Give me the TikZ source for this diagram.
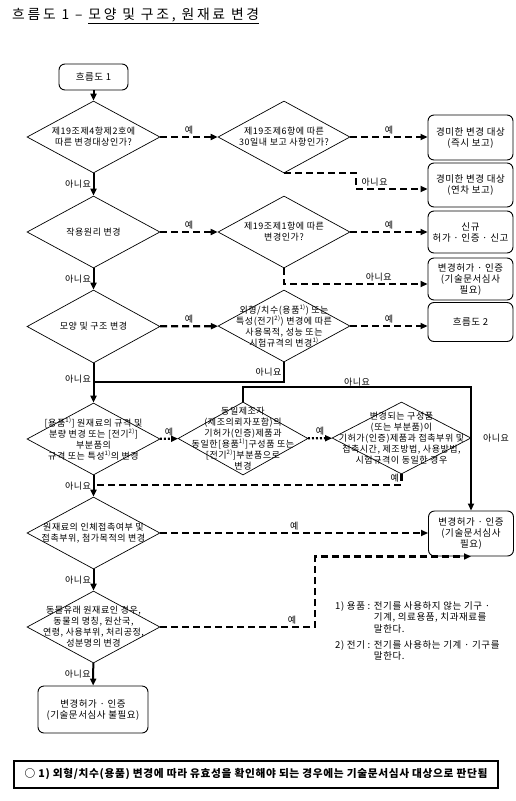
\documentclass[tikz,border=0pt]{standalone}
\usepackage{fontspec}
\setmainfont[LetterSpace=6]{Noto Sans CJK KR}
\newfontfamily\krtitle[LetterSpace=20]{Noto Sans CJK KR}
\usetikzlibrary{shapes.geometric, arrows.meta}

\begin{document}
\begin{tikzpicture}[
        x=1pt, y=-1pt,
        decision/.style={diamond, draw, line width=0.7pt, minimum width=133pt, minimum height=72pt, inner sep=0pt},
        dtext/.style={align=center, font=\fontsize{9}{11}\selectfont, inner sep=0pt},
        box/.style={draw, rounded corners=6pt, line width=0.9pt, align=center, minimum width=85pt, inner sep=2pt, font=\fontsize{9.5}{11}\selectfont},
        tag/.style={font=\fontsize{9}{10}\selectfont, inner sep=1.5pt},
        flow/.style={-{Triangle[length=7pt,width=6pt]}, line width=2pt},
        joinline/.style={line width=2pt},
        dashline/.style={line width=2.2pt, dash pattern=on 7pt off 4pt},
        dashflow/.style={dashline, -{Triangle[length=7pt,width=6pt]}},
        dotflow/.style={flow, line width=2.2pt, dash pattern=on 2pt off 2pt}
    ]
    \useasboundingbox (0,0) rectangle (516,801);

    % Title
    \node[anchor=west, inner sep=0pt, font=\krtitle\fontsize{13.8}{15}\selectfont] (title) at (12,16) {흐름도 1 – \underline{모양 및 구조, 원재료 변경}};

    % Nodes
    \node[box, minimum width=69pt, minimum height=26pt] (start) at (93.5,77) {흐름도 1};

    \node[decision, label={[dtext]center:{제19조제4항제2호에\\따른 변경대상인가?}}] (q1) at (93.5,137) {};
    \node[decision, minimum width=132pt, label={[dtext]center:{제19조제6항에 따른\\30일내 보고 사항인가?}}] (r1) at (284,137) {};
    \node[decision, label={[dtext]center:{작용원리 변경}}] (q2) at (93.5,232) {};
    \node[decision, minimum width=132pt, label={[dtext]center:{제19조제1항에 따른\\변경인가?}}] (r2) at (284,232) {};
    \node[decision, minimum height=73pt, label={[dtext]center:{모양 및 구조 변경}}] (q3) at (93.5,326.5) {};
    \node[decision, minimum width=132pt, label={[dtext]center:{외형/치수(용품\textsuperscript{1)}) 또는\\특성(전기\textsuperscript{2)}) 변경에 따른\\사용목적, 성능 또는\\시험규격의 변경\textsuperscript{1)}}}] (r3) at (284,326) {};
    \node[decision, label={[dtext]center:{{}[용품\textsuperscript{1)}] 원재료의 규격 및\\분량 변경 또는 [전기\textsuperscript{2)}]\\부분품의\\규격 또는 특성\textsuperscript{1)}의 변경}}] (q4) at (93.5,439) {};
    \node[decision, minimum width=130pt, minimum height=73pt, label={[dtext]center:{동일제조자\\(제조의뢰자포함)의\\기허가(인증)제품과\\동일한[용품\textsuperscript{1)}]구성품 또는\\{}[전기\textsuperscript{2)}]부분품으로\\변경}}] (m4) at (243,438.5) {};
    \node[decision, minimum width=139pt, label={[dtext]center:{변경되는 구성품\\(또는 부분품)이\\기허가(인증)제품과 접촉부위 및\\접촉시간, 제조방법, 사용방법,\\시험규격이 동일한 경우}}, label={[tag, xshift=10pt]right:아니요}] (r4) at (401.5,438) {};
    \node[decision, label={[dtext]center:{원재료의 인체접촉여부 및\\접촉부위, 첨가목적의 변경}}] (q5) at (93.5,533) {};
    \node[decision, label={[dtext]center:{동물유래 원재료인 경우,\\동물의 명칭, 원산국,\\연령, 사용부위, 처리공정,\\성분명의 변경}}] (q6) at (93.5,627) {};

    \node[box, minimum height=45pt] (b1) at (470.5,137.5) {경미한 변경 대상\\(즉시 보고)};
    \node[box, minimum height=44pt] (b2) at (470.5,185) {경미한 변경 대상\\(연차 보고)};
    \node[box, minimum height=42pt] (b3) at (470.5,232) {신규\\허가 · 인증 · 신고};
    \node[box, minimum height=42pt] (b4) at (470.5,279) {변경허가 · 인증\\(기술문서심사\\필요)};
    \node[box, minimum height=39pt] (b5) at (470.5,322) {흐름도 2};
    \node[box, minimum height=45pt] (b6) at (471,533.5) {변경허가 · 인증\\(기술문서심사\\필요)};
    \node[box, minimum width=110pt, minimum height=47pt] (fin) at (93,709.5) {변경허가 · 인증\\(기술문서심사 불필요)};

    % Footnotes
    \node[anchor=north west, inner sep=0pt, font=\fontsize{9.5}{11.5}\selectfont] (note1) at (335,601) {\begin{tabular}{@{}l@{ }l@{}}1) 용품 : & 전기를 사용하지 않는 기구 ·\\ & 기계, 의료용품, 치과재료를\\ & 말한다.\end{tabular}};
    \node[anchor=north west, inner sep=0pt, font=\fontsize{9.5}{11.5}\selectfont] (note2) at (335,640) {\begin{tabular}{@{}l@{ }l@{}}2) 전기 : & 전기를 사용하는 기계 · 기구를\\ & 말한다.\end{tabular}};

    \node[draw, line width=1.1pt, minimum width=484pt, minimum height=27pt, font=\bfseries\fontsize{10.7}{12}\selectfont] (remark) at (256,774.5) {○ 1) 외형/치수(용품) 변경에 따라 유효성을 확인해야 되는 경우에는 기술문서심사 대상으로 판단됨};

    % Arrows
    \draw[flow] (start) -- (q1);
    \draw[flow] (q1) -- (q2) node[tag, midway, left] {아니요};
    \draw[flow] (q2) -- (q3) node[tag, midway, left] {아니요};
    \draw[flow] (q3) -- (q4) node[tag, pos=0.4, left] {아니요};
    \draw[flow] (q4) -- (q5) node[tag, midway, left] {아니요};
    \draw[flow] (q5) -- (q6) node[tag, midway, left] {아니요};
    \draw[flow] (q6) -- (fin) node[tag, midway, left] {아니요};

    \draw[dashflow] (q1) -- (r1) node[tag, midway, above] {예};
    \draw[dashflow] (r1.east) -- (r1.east -| b1.west) node[tag, midway, above] {예};
    \draw[dashflow] (r1.south) -- ++(72,0) |- ([yshift=-4pt]b2.west) node[tag, pos=0.63, above] {아니요};
    \draw[dashflow] (q2) -- (r2) node[tag, midway, above] {예};
    \draw[dashflow] (r2.east) -- (r2.east -| b3.west) node[tag, midway, above] {예};
    \draw[dashflow] (r2.south) |- ([yshift=-5pt]b4.west) node[tag, pos=0.83, above] {아니요};
    \draw[dashflow] (q3) -- (r3) node[tag, midway, above] {예};
    \draw[dashflow] (r3.east) -- (r3.east -| b5.west) node[tag, midway, above] {예};

    \coordinate (j3) at (93.5,382);
    \draw[joinline] (r3.south) |- (j3) node[tag, pos=0.25, left] {아니요};

    \draw[dotflow] (q4) -- (m4) node[tag, midway, above] {예};
    \draw[dotflow] (m4) -- (r4) node[tag, midway, above] {예};
    \coordinate (j5) at (243,387);
    \draw[flow] (m4.north) -- (j5) -| (b6.north) node[tag, pos=0.25, anchor=south, inner sep=0pt] {아니요};
    \coordinate (j4) at (93.5,485);
    \draw[dashline] (r4.south) |- (j4) node[tag, pos=0.2, left] {예};

    \draw[dashflow] (q5.east) -- (q5.east -| b6.west) node[tag, midway, above] {예};
    \draw[dashflow] (q6.east) -- ++(155,0) node[tag, pos=0.85, above] {예} |- (b6.south);

\end{tikzpicture}
\end{document}
